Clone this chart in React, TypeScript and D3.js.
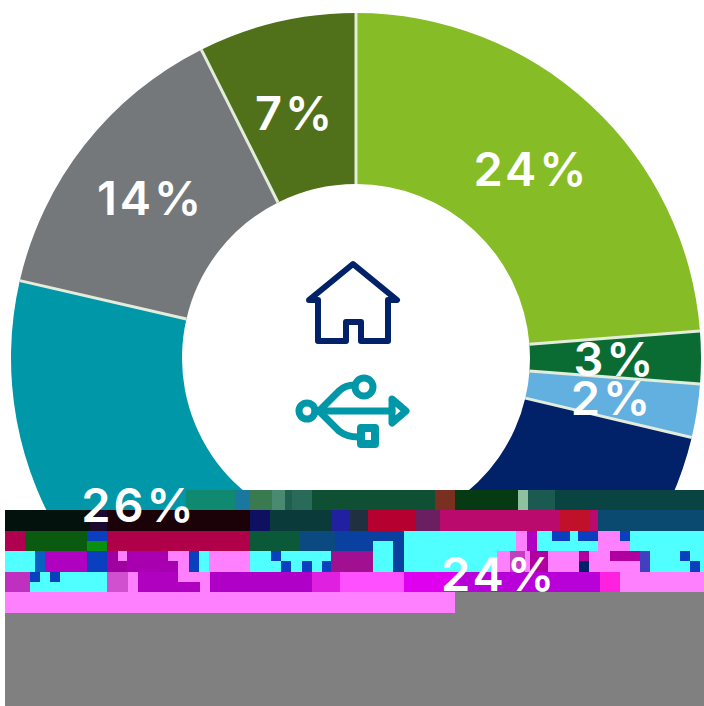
import React from "react";
import * as d3 from "d3";

// Chart data
const sliceLabels = ["24%", "3%", "2%", "24%", "26%", "14%", "7%"];
const sliceValues = [23.75, 2.45, 2.5, 23.9, 26, 14, 7.4];
const sliceColors = ["#86bc25", "#0a6b33", "#62b0e0", "#012169", "#0097a9", "#75787b", "#50701a"];
const labelNudgeY = [2, 1, 0, 0, 2, 1, 8];

// Corrupted band of the reference image: x0, x1, y0, y1, colour
const artifactBlocks: [number, number, number, number, string][] = [
  [186, 235, 490, 510, "#0f8a70"], [235, 250, 490, 510, "#1a78a0"], [250, 272, 490, 510, "#3a7a50"],
  [272, 285, 490, 510, "#4a8a70"], [285, 292, 490, 510, "#1f5f50"], [292, 312, 490, 510, "#2a6a58"],
  [312, 435, 490, 510, "#0f5035"], [435, 455, 490, 510, "#7a3020"], [455, 518, 490, 510, "#053a12"],
  [518, 528, 490, 510, "#8fc0a0"], [528, 555, 490, 510, "#1a5a50"], [555, 704, 490, 510, "#0a4442"],

  [5, 90, 510, 531, "#03120c"], [90, 107, 510, 531, "#1a0a30"], [107, 250, 510, 531, "#1a0208"],
  [250, 270, 510, 531, "#101060"], [270, 332, 510, 531, "#0a3a3a"], [332, 350, 510, 531, "#2020a0"],
  [350, 368, 510, 531, "#203040"], [368, 415, 510, 531, "#b50030"], [415, 440, 510, 531, "#6a2060"],
  [440, 560, 510, 531, "#bb0a6e"], [560, 590, 510, 531, "#c0102a"], [590, 598, 510, 531, "#bb0a6e"],
  [598, 704, 510, 531, "#0a4a70"],

  [5, 25, 531, 551, "#b00050"], [25, 87, 531, 551, "#0a5a10"], [87, 107, 531, 541, "#0a40c0"],
  [87, 107, 541, 551, "#0a9010"], [107, 250, 531, 551, "#b0004a"], [250, 300, 531, 551, "#0a5a3a"],
  [300, 335, 531, 551, "#0a4a80"], [335, 404, 531, 551, "#0a40a0"], [373, 393, 541, 551, "#50ffff"],
  [404, 516, 531, 551, "#50ffff"], [516, 527, 531, 551, "#ff80ff"], [527, 537, 531, 551, "#b000c0"],
  [537, 552, 531, 551, "#50ffff"], [552, 570, 531, 541, "#0a40c0"], [552, 600, 541, 551, "#50ffff"],
  [570, 578, 531, 541, "#50ffff"], [578, 598, 531, 541, "#0a40c0"], [598, 620, 531, 551, "#ff80ff"],
  [620, 704, 531, 551, "#50ffff"], [620, 630, 541, 551, "#ff80ff"], [620, 630, 531, 541, "#0a40c0"],

  [5, 35, 551, 572, "#50ffff"], [35, 45, 551, 572, "#0a60c0"], [45, 87, 551, 572, "#b000c0"],
  [87, 107, 551, 572, "#0a40c0"], [107, 118, 551, 572, "#a000a0"], [118, 127, 551, 561, "#ff80ff"],
  [118, 127, 561, 572, "#a000a0"], [127, 168, 551, 572, "#a800b0"], [168, 189, 551, 561, "#ff80ff"],
  [168, 178, 561, 572, "#a800b0"], [178, 189, 561, 572, "#ff80ff"], [189, 199, 551, 572, "#0a40c0"],
  [199, 209, 551, 572, "#50ffff"], [209, 250, 551, 572, "#ff80ff"], [250, 331, 551, 572, "#50ffff"],
  [271, 281, 551, 561, "#0a40c0"], [281, 291, 561, 572, "#0a40c0"], [302, 312, 561, 572, "#0a40c0"],
  [322, 332, 561, 572, "#0a40c0"], [331, 373, 551, 572, "#a01090"], [373, 393, 551, 572, "#50ffff"],
  [393, 404, 551, 572, "#0a40a0"], [404, 497, 551, 572, "#50ffff"], [497, 530, 551, 572, "#ff80ff"],
  [510, 525, 551, 572, "#c040c0"], [530, 548, 551, 572, "#b000a0"], [548, 579, 551, 572, "#ff80ff"],
  [579, 589, 551, 561, "#b000a0"], [589, 610, 551, 572, "#ff80ff"], [610, 640, 551, 561, "#b000a0"],
  [610, 640, 561, 572, "#ff80ff"], [640, 650, 551, 572, "#4040c0"], [650, 704, 551, 572, "#50ffff"],
  [680, 690, 551, 561, "#0a40c0"], [690, 700, 561, 572, "#0a40c0"],

  [5, 30, 572, 592, "#c030c0"], [30, 107, 572, 592, "#50ffff"], [30, 40, 572, 582, "#0a40c0"],
  [50, 60, 572, 582, "#0a40c0"], [107, 128, 572, 592, "#d050d0"], [128, 138, 572, 592, "#ff80ff"],
  [138, 178, 572, 592, "#b000c0"], [178, 200, 572, 582, "#ff80ff"], [178, 200, 582, 592, "#b000c0"],
  [200, 210, 572, 592, "#ff80ff"], [210, 312, 572, 592, "#b000c8"], [312, 340, 572, 592, "#e020e0"],
  [340, 404, 572, 592, "#ff50ff"], [404, 458, 572, 592, "#e000f0"], [458, 600, 572, 592, "#b800d8"],
  [600, 620, 572, 592, "#ff20e0"], [620, 704, 572, 592, "#ff80ff"],

  [5, 455, 592, 613, "#ff80ff"], [455, 704, 592, 613, "#808080"], [5, 704, 613, 706, "#808080"],
];

const cx = 356;
const cy = 358;
const outerR = 345;
const innerR = 174;
const labelR = 260;

const pie = d3.pie<number>().sort(null).value((d) => d);
const arc = d3.arc<d3.PieArcDatum<number>>().innerRadius(innerR).outerRadius(outerR);
const labelArc = d3.arc<d3.PieArcDatum<number>>().innerRadius(labelR).outerRadius(labelR);

export default function App() {
  const arcs = pie(sliceValues);
  return (
    <svg
      width={704}
      height={706}
      viewBox="0 0 704 706"
      style={{ position: "absolute", left: 0, top: 0, background: "#fff" }}
    >
      <g transform={`translate(${cx},${cy})`}>
        {arcs.map((a, i) => (
          <path key={i} d={arc(a) ?? ""} fill={sliceColors[i]} />
        ))}
        {arcs.map((a, i) => {
          const sin = Math.sin(a.startAngle);
          const cos = -Math.cos(a.startAngle);
          return (
            <line
              key={i}
              x1={innerR * sin}
              y1={innerR * cos}
              x2={outerR * sin}
              y2={outerR * cos}
              stroke="#e4ecdc"
              strokeWidth={3}
            />
          );
        })}
      </g>

      <path
        d="M318,300 H309 L353,264 L397,300 H388 V341 H361 V322 H346 V341 H318 Z"
        fill="none"
        stroke="#012169"
        strokeWidth={6}
        strokeLinejoin="round"
      />

      <g fill="none" stroke="#0097a9" strokeWidth={7} strokeLinejoin="round" strokeLinecap="round">
        <circle cx={307} cy={411} r={8} />
        <path d="M315,411 H392" />
        <path d="M319,411 L339,391 Q345,385 355,385" />
        <path d="M319,411 L339,431 Q347,437 358,437" />
        <circle cx={364} cy={387} r={9} />
        <path d="M392,399 L406,411 L392,423 Z" />
        <rect x={361} y={428} width={14} height={16} strokeWidth={8} />
      </g>

      {artifactBlocks.map(([x0, x1, y0, y1, c], i) => (
        <rect key={i} x={x0} y={y0} width={x1 - x0} height={y1 - y0} fill={c} shapeRendering="crispEdges" />
      ))}

      <g transform={`translate(${cx},${cy})`}>
        {arcs.map((a, i) => {
          const [x, y] = labelArc.centroid(a);
          return (
            <text
              key={i}
              x={x - 1}
              y={y + labelNudgeY[i]}
              dy="0.36em"
              textAnchor="middle"
              fill="#fff"
              fontFamily="Inter, 'DejaVu Sans', sans-serif"
              fontWeight={600}
              fontSize={47}
              letterSpacing={3}
            >
              {sliceLabels[i]}
            </text>
          );
        })}
      </g>
    </svg>
  );
}
